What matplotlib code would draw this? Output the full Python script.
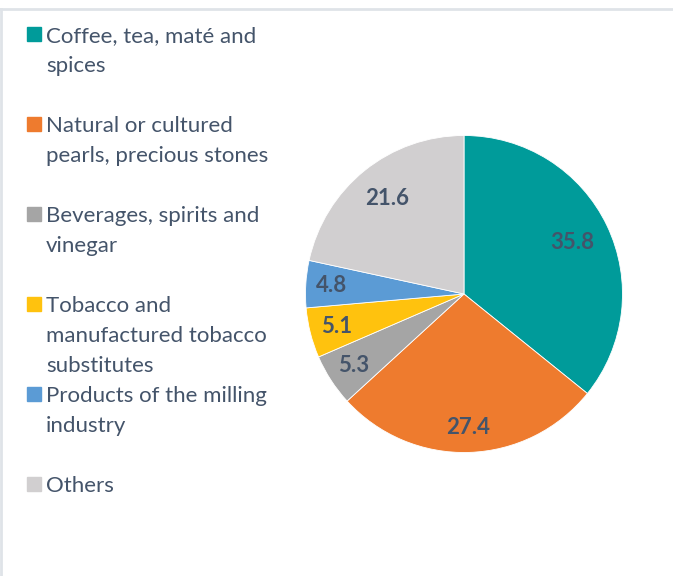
import matplotlib.pyplot as plt
from matplotlib.patches import Rectangle
from matplotlib.lines import Line2D
import numpy as np

labels = ['Coffee, tea, maté and\nspices',
          'Natural or cultured\npearls, precious stones',
          'Beverages, spirits and\nvinegar',
          'Tobacco and\nmanufactured tobacco\nsubstitutes',
          'Products of the milling\nindustry',
          'Others']
values = [35.8, 27.4, 5.3, 5.1, 4.8, 21.6]
colors = ['#009B9A', '#EE7B2E', '#A5A5A5', '#FFC20E', '#5B9BD5', '#D1CFD0']

text_color = '#44546A'
plt.rcParams['font.family'] = ['Lato', 'DejaVu Sans']

W, H = 673, 576
fig = plt.figure(figsize=(W / 100, H / 100), dpi=100)

# light frame lines (top and left)
fig.add_artist(Line2D([0, 1], [1 - 9 / H, 1 - 9 / H], color='#DFE3E8', lw=2,
                      transform=fig.transFigure))
fig.add_artist(Line2D([1 / W, 1 / W], [0, 1 - 9 / H], color='#DFE3E8', lw=2,
                      transform=fig.transFigure))

# pie
cx, cy, r = 464, H - 294, 158.5
ax = fig.add_axes([(cx - r) / W, (cy - r) / H, 2 * r / W, 2 * r / H])
wedges, _ = ax.pie(values, colors=colors, startangle=90, counterclock=False,
                   wedgeprops=dict(edgecolor='white', linewidth=0.6))
ax.set_xlim(-1, 1)
ax.set_ylim(-1, 1)
ax.set_aspect('equal')

label_r = [0.76, 0.84, 0.83, 0.83, 0.84, 0.77]
for w, v, lr in zip(wedges, values, label_r):
    ang = np.deg2rad((w.theta1 + w.theta2) / 2)
    ax.text(lr * np.cos(ang), lr * np.sin(ang), f'{v:.1f}', ha='center', va='center',
            fontsize=16, fontweight='bold', color=text_color)

# legend, drawn by hand to mimic the wrapped entries
y0 = 34
for i, (lab, c) in enumerate(zip(labels, colors)):
    y = y0 + 90 * i
    fig.add_artist(Rectangle((27 / W, 1 - (y + 7) / H), 14 / W, 14 / H, color=c,
                             transform=fig.transFigure))
    for k, line in enumerate(lab.split('\n')):
        fig.text(46 / W, 1 - (y + 8 + 30 * k) / H, line, ha='left', va='baseline',
                 fontsize=16, color=text_color)

fig.savefig('out.png', dpi=100)
